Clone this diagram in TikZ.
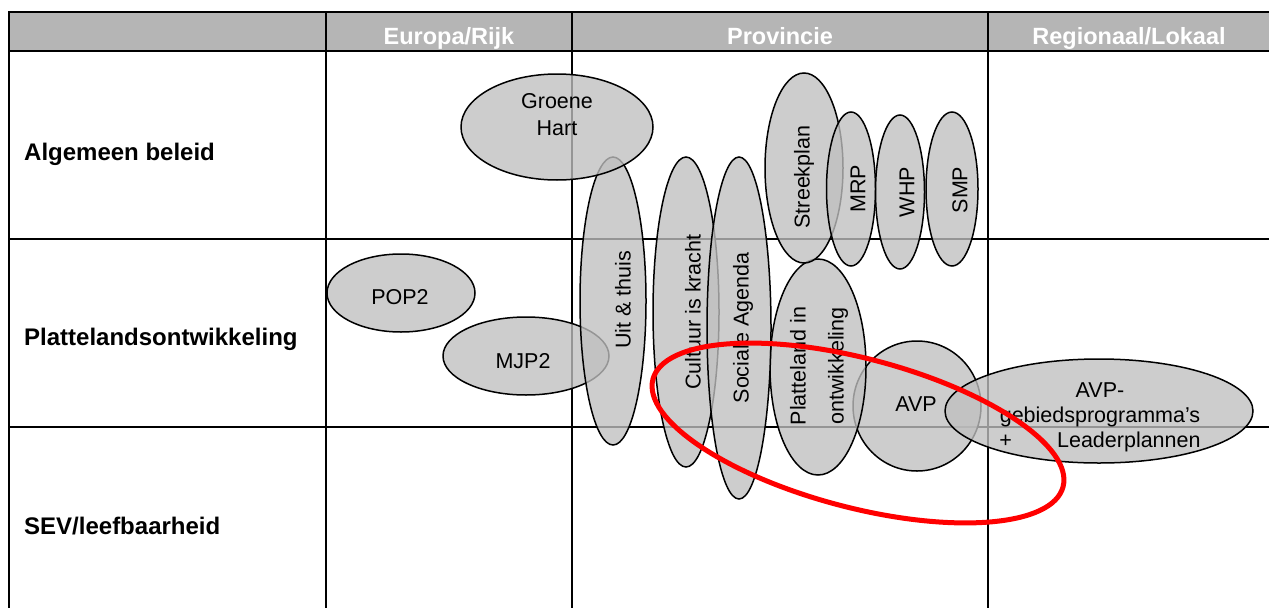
\documentclass[tikz,border=0pt]{standalone}
\usepackage{fontspec}
\setmainfont{Liberation Sans}
\usetikzlibrary{shapes.geometric}
\begin{document}
\begin{tikzpicture}[x=1pt,y=-1pt,
 gridline/.style={line width=2pt},
 blob/.style={ellipse, draw, line width=1.5pt, fill=black!25, fill opacity=0.78, inner sep=0pt, outer sep=0pt},
 txt/.style={font=\fontsize{21.5}{25}\selectfont, inner sep=0pt, align=center},
 head/.style={font=\bfseries\fontsize{23.5}{27}\selectfont, text=white, inner sep=0pt, anchor=base},
 rowlab/.style={font=\bfseries\fontsize{24}{28}\selectfont, inner sep=0pt, anchor=base west}]
\useasboundingbox (0,0) rectangle (1269,608);
% table
\fill[black!29] (9,12) rectangle (1269,51);
\draw[gridline] (1269,12) -- (9,12) -- (9,608);
\draw[gridline] (9,51) -- (1269,51);
\draw[gridline] (9,239) -- (1269,239);
\draw[gridline] (9,427) -- (1269,427);
\draw[gridline] (326,12) -- (326,608);
\draw[gridline] (572,12) -- (572,608);
\draw[gridline] (988,12) -- (988,608);
% headers
\node[head] (h1) at (449,44) {Europa/Rijk};
\node[head] (h2) at (780,44) {Provincie};
\node[head] (h3) at (1129,44) {Regionaal/Lokaal};
\node[rowlab] (r1) at (24,160) {Algemeen beleid};
\node[rowlab] (r2) at (24,345) {Plattelandsontwikkeling};
\node[rowlab] (r3) at (24,534) {SEV/leefbaarheid};
% ellipses
\node[blob, minimum width=128, minimum height=130] (avp) at (917,406) {};
\node[blob, minimum width=308, minimum height=104] (avpg) at (1099,411) {};
\node[blob, minimum width=96, minimum height=216] (plat) at (818,367) {};
\node[blob, minimum width=66, minimum height=310] (cult) at (686,312) {};
\node[blob, minimum width=64, minimum height=342] (soc) at (739,328) {};
\node[blob, minimum width=166, minimum height=78] (mjp) at (526,356) {};
\node[blob, minimum width=66, minimum height=288] (uit) at (613,301) {};
\node[blob, minimum width=148, minimum height=78] (pop) at (401,293) {};
\node[blob, minimum width=192, minimum height=106] (groene) at (557,127) {};
\node[blob, minimum width=78, minimum height=190] (streek) at (804,168) {};
\node[blob, minimum width=49, minimum height=154] (mrp) at (851,189) {};
\node[blob, minimum width=49, minimum height=154] (whp) at (900,192) {};
\node[blob, minimum width=52, minimum height=154] (smp) at (952,189) {};
% texts
\node[txt, font=\fontsize{21.5}{27}\selectfont] (tgroene) at (557,115) {Groene\\Hart};
\node[txt, rotate=90] (tuit) at (623,300) {Uit \& thuis};
\node[txt, rotate=90] (tcult) at (693,312) {Cultuur is kracht};
\node[txt, rotate=90] (tsoc) at (743,328) {Sociale Agenda};
\node[txt, rotate=90, font=\fontsize{21.5}{38}\selectfont] (tplat) at (819,366) {Platteland in\\ontwikkeling};
\node[txt, rotate=90] (tstreek) at (804,177) {Streekplan};
\node[txt, rotate=90] (tmrp) at (858,189) {MRP};
\node[txt, rotate=90] (twhp) at (907,192) {WHP};
\node[txt, rotate=90] (tsmp) at (960,190) {SMP};
\node[txt] (tpop) at (400,297) {POP2};
\node[txt] (tmjp) at (523,361) {MJP2};
\node[txt] (tavp) at (916,404) {AVP};
\node[txt] (tavpg) at (1100,417) {AVP-\\gebiedsprogramma’s\\+\hspace{2.1em}Leaderplannen};
% red focus ellipse
\node[ellipse, draw=red, line width=5pt, inner sep=0pt, minimum width=424, minimum height=149, rotate=-14.7] (focus) at (858,433) {};
\end{tikzpicture}
\end{document}
